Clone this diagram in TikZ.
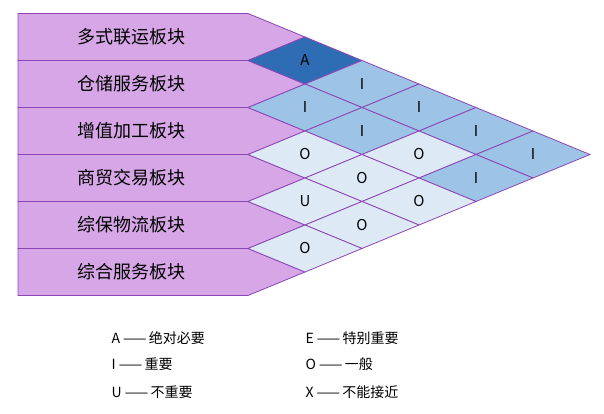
\documentclass[tikz,border=0pt]{standalone}
\usepackage{fontspec}
\setmainfont{Noto Sans CJK SC}
\begin{document}
\begin{tikzpicture}[x=1pt,y=-1pt,
  rowbox/.style={draw=edgec, line width=0.8pt, fill=rowfill},
  dia/.style={draw=edgec, line width=0.8pt},
  lbl/.style={font=\fontsize{18}{20}\selectfont, anchor=west},
  lg/.style={font=\fontsize{14}{16}\selectfont, anchor=west}]
\definecolor{edgec}{HTML}{8C46B4}
\definecolor{rowfill}{HTML}{D6A6E6}
\definecolor{cA}{HTML}{2E6DB4}
\definecolor{cI}{HTML}{9DC3E6}
\definecolor{cO}{HTML}{DDEAF6}
\useasboundingbox (0,0) rectangle (604,414);
% row boxes
\foreach \i/\t in {0/多式联运板块,1/仓储服务板块,2/增值加工板块,3/商贸交易板块,4/综保物流板块,5/综合服务板块}{
  \pgfmathsetmacro\yc{37+47*\i}
  \draw[rowbox] (18,\yc-23.5) -- (248,\yc-23.5) -- (305,\yc) -- (248,\yc+23.5) -- (18,\yc+23.5) -- cycle;
  \node[lbl] (r\i) at (74,\yc) {\t};
}
% diamonds: i/j/fill/letter
\foreach \i/\j/\c/\l in {0/1/cA/A,0/2/cI/I,1/2/cI/I,0/3/cI/I,1/3/cI/I,2/3/cO/O,0/4/cI/I,1/4/cO/O,2/4/cO/O,3/4/cO/U,0/5/cI/I,1/5/cI/I,2/5/cO/O,3/5/cO/O,4/5/cO/O}{
  \pgfmathsetmacro\xc{248+57*(\j-\i)}
  \pgfmathsetmacro\yc{37+23.5*(\i+\j)}
  \draw[dia, fill=\c] (\xc-57,\yc) -- (\xc,\yc-23.5) -- (\xc+57,\yc) -- (\xc,\yc+23.5) -- cycle;
  \node[font=\fontsize{15}{16}\selectfont] (d\i\j) at (\xc,\yc) {\l};
}
% legend
\node[lg] (la) at (108,338) {A ——\,绝对必要};
\node[lg] (li) at (108,364) {I ——\,重要};
\node[lg] (lu) at (108,392) {U ——\,不重要};
\node[lg] (le) at (302,338) {E ——\,特别重要};
\node[lg] (lo) at (302,364) {O ——\,一般};
\node[lg] (lx) at (302,392) {X ——\,不能接近};
\end{tikzpicture}
\end{document}
